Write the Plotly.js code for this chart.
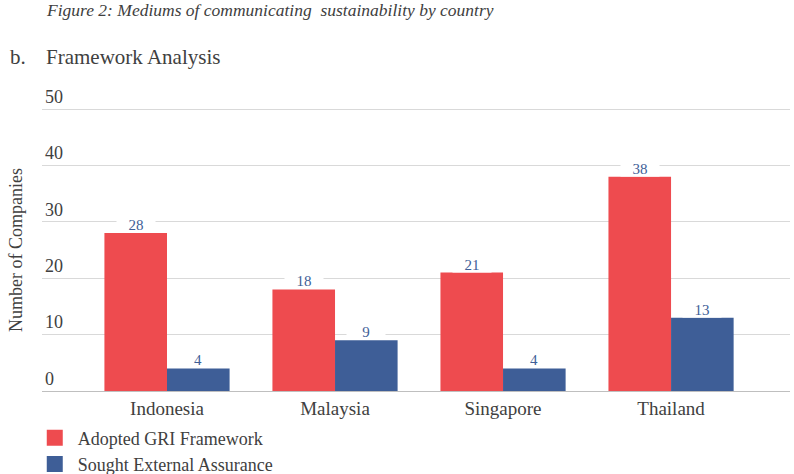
<!DOCTYPE html>
<html>
<head>
<meta charset="utf-8">
<script src="https://cdn.plot.ly/plotly-3.0.1.min.js"></script>
<style>html,body{margin:0;padding:0;background:#fff;}#chart{width:794px;height:474px;}</style>
</head>
<body>
<div id="chart"></div>
<script>
const countries = ["Indonesia", "Malaysia", "Singapore", "Thailand"];
const adoptedGRI = [28, 18, 21, 38];
const soughtAssurance = [4, 9, 4, 13];
const seriesNames = ["Adopted GRI Framework", "Sought External Assurance"];
const yTicks = [0, 10, 20, 30, 40, 50];
const yTitle = "Number of Companies";

const RED = "#EE4B4F";
const BLUE = "#3E5E97";
const TXT = "#404040";
const FONT = "Liberation Serif, Times New Roman, serif";

const traces = [
  {type: "bar", x: countries, y: adoptedGRI, name: seriesNames[0], marker: {color: RED}, showlegend: false, hoverinfo: "x+y"},
  {type: "bar", x: countries, y: soughtAssurance, name: seriesNames[1], marker: {color: BLUE}, showlegend: false, hoverinfo: "x+y"},
  {type: "scatter", mode: "markers", x: [null], y: [null], name: seriesNames[0], marker: {symbol: "square", size: 16, color: RED}, showlegend: true},
  {type: "scatter", mode: "markers", x: [null], y: [null], name: seriesNames[1], marker: {symbol: "square", size: 16, color: BLUE}, showlegend: true}
];

const valueAnn = [];
countries.forEach((c, i) => {
  [[adoptedGRI, -31], [soughtAssurance, 31]].forEach(([arr, dx]) => {
    valueAnn.push({
      x: c, y: arr[i], xref: "x", yref: "y", text: String(arr[i]),
      showarrow: false, xanchor: "center", yanchor: "bottom", xshift: dx, yshift: 0,
      bgcolor: "#ffffff", width: 38, height: 15, borderpad: 0,
      font: {family: FONT, size: 15, color: "#3E5E97"}
    });
  });
});

const layout = {
  width: 794, height: 474,
  margin: {l: 42, r: 4, t: 78, b: 83, autoexpand: false},
  paper_bgcolor: "#fff", plot_bgcolor: "#fff",
  font: {family: FONT, color: TXT},
  barmode: "group", bargap: 0.255, bargroupgap: 0,
  xaxis: {
    type: "category", range: [-0.744, 3.708],
    showgrid: false, showline: true, linecolor: "#bfbfbf", linewidth: 1,
    ticks: "", tickfont: {family: FONT, size: 19, color: TXT}, fixedrange: true
  },
  yaxis: {
    range: [0, 55.5], tickvals: yTicks, ticktext: yTicks.map(String),
    ticklabelposition: "inside top", ticklabelstandoff: 0,
    showgrid: true, gridcolor: "#d9d9d9", gridwidth: 1,
    zeroline: false, showline: false, ticks: "",
    tickfont: {family: FONT, size: 18, color: TXT},
    automargin: false, fixedrange: true
  },
  legend: {
    orientation: "v", xref: "container", yref: "container",
    x: 0.04, xanchor: "left", y: 0.115, yanchor: "top", itemwidth: 36,
    font: {family: FONT, size: 18, color: TXT}, bgcolor: "rgba(0,0,0,0)", tracegroupgap: 0
  },
  annotations: valueAnn.concat([
    {xref: "paper", yref: "paper", x: -0.0348, y: 0.4505, xanchor: "center", yanchor: "middle", showarrow: false,
     textangle: -90, text: yTitle, font: {family: FONT, size: 18, color: TXT}},
    {xref: "paper", yref: "paper", x: 0.003, y: 1.2173, xanchor: "left", yanchor: "middle", showarrow: false,
     text: "<i>Figure 2: Mediums of communicating  sustainability by country</i>",
     font: {family: FONT, size: 17.5, color: TXT}},
    {xref: "paper", yref: "paper", x: -0.046, y: 1.0671, xanchor: "left", yanchor: "middle", showarrow: false,
     text: "b.", font: {family: FONT, size: 21, color: TXT}},
    {xref: "paper", yref: "paper", x: 0.003, y: 1.0671, xanchor: "left", yanchor: "middle", showarrow: false,
     text: "Framework Analysis", font: {family: FONT, size: 21, color: TXT}}
  ])
};

Plotly.newPlot("chart", traces, layout, {displayModeBar: false, staticPlot: true});
</script>
</body>
</html>
